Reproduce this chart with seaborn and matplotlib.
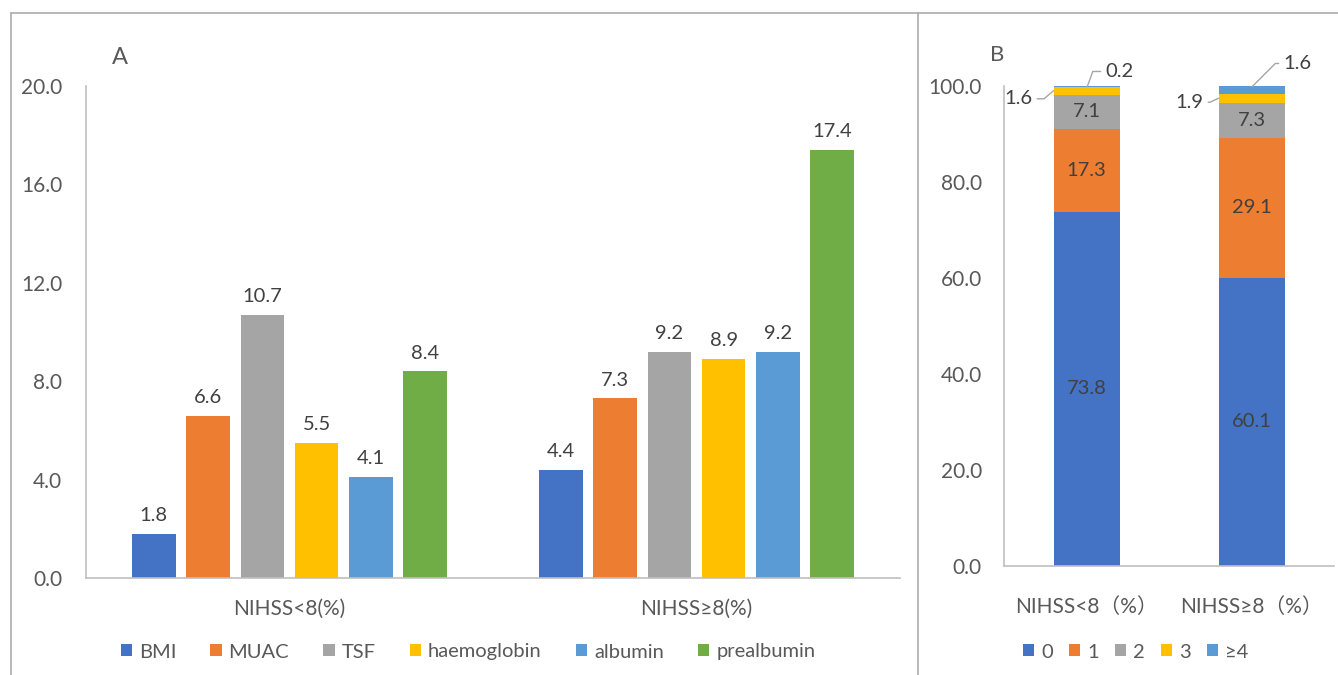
import numpy as np
import pandas as pd
import matplotlib
matplotlib.use("Agg")
import matplotlib.pyplot as plt
from matplotlib.lines import Line2D
import seaborn as sns

# Panel A: share of patients with low nutritional indicators, by stroke severity
groups_a = ["NIHSS<8(%)", "NIHSS≥8(%)"]
indicators = ["BMI", "MUAC", "TSF", "haemoglobin", "albumin", "prealbumin"]
mild_vals = [1.8, 6.6, 10.7, 5.5, 4.1, 8.4]
severe_vals = [4.4, 7.3, 9.2, 8.9, 9.2, 17.4]
colors_a = ["#4472C4", "#ED7D31", "#A5A5A5", "#FFC000", "#5B9BD5", "#70AD47"]

# Panel B: distribution of the number of abnormal indicators
groups_b = ["NIHSS<8（%）", "NIHSS≥8（%）"]
levels = ["0", "1", "2", "3", "≥4"]
mild_dist = [73.8, 17.3, 7.1, 1.6, 0.2]
severe_dist = [60.1, 29.1, 7.3, 1.9, 1.6]
colors_b = ["#4472C4", "#ED7D31", "#A5A5A5", "#FFC000", "#5B9BD5"]

TEXT = "#595959"
LABEL = "#404040"
LINE = "#BFBFBF"

sns.set_theme(style="white")
plt.rcParams["font.family"] = ["Lato", "Noto Sans CJK SC", "DejaVu Sans"]

W, H = 1338, 675
fig = plt.figure(figsize=(W / 100, H / 100), dpi=100)


def px_axes(x0, y0, x1, y1):
    return fig.add_axes([x0 / W, 1 - y1 / H, (x1 - x0) / W, (y1 - y0) / H])


def fig_line(x0, y0, x1, y1):
    fig.add_artist(Line2D([x0 / W, x1 / W], [1 - y0 / H, 1 - y1 / H],
                          transform=fig.transFigure, color="#ABABAB", lw=1.2))


def style_axes(ax, ypad, xpad):
    sns.despine(ax=ax)
    for side in ("left", "bottom"):
        ax.spines[side].set_color(LINE)
        ax.spines[side].set_linewidth(1.2)
    ax.tick_params(axis="both", length=0, labelsize=15, colors=TEXT)
    ax.tick_params(axis="y", pad=ypad)
    ax.tick_params(axis="x", pad=xpad)
    ax.set_xlabel("")
    ax.set_ylabel("")


# panel frames
fig_line(11, 13, W, 13)
fig_line(11, 13, 11, H)
fig_line(918, 13, 918, H)

# ---------------- Panel A ----------------
axA = px_axes(86, 86, 900, 578)
df_a = pd.DataFrame({
    "group": np.repeat(groups_a, len(indicators)),
    "indicator": indicators * len(groups_a),
    "value": mild_vals + severe_vals,
})
sns.barplot(data=df_a, x="group", y="value", hue="indicator", hue_order=indicators,
            order=groups_a, palette=colors_a, width=0.8, gap=0.2, saturation=1,
            errorbar=None, linewidth=0, ax=axA, legend=True)
for cont in axA.containers:
    axA.bar_label(cont, fmt="%.1f", padding=7, fontsize=14.5, color=LABEL)
axA.set_ylim(0, 20)
axA.set_yticks(np.arange(0, 20.1, 4))
axA.set_yticklabels([f"{v:.1f}" for v in np.arange(0, 20.1, 4)])
style_axes(axA, ypad=17, xpad=15)

handles, labels = axA.get_legend_handles_labels()
axA.legend(handles, labels, loc="center", bbox_to_anchor=(468 / W, 1 - 652 / H),
           bbox_transform=fig.transFigure, ncol=6, frameon=False, fontsize=14.5,
           labelcolor=TEXT, handlelength=0.55, handleheight=0.55, handletextpad=0.35,
           columnspacing=1.7, borderpad=0)

fig.text(120 / W, 1 - 57 / H, "A", ha="center", va="center", fontsize=17, color=TEXT)

# ---------------- Panel B ----------------
axB = px_axes(1004, 86, 1334, 566)
df_b = pd.DataFrame({
    "group": np.repeat(groups_b, len(levels)),
    "level": levels * len(groups_b),
    "value": mild_dist + severe_dist,
})
df_b["top"] = df_b.groupby("group", sort=False)["value"].cumsum()

# stacked bars: draw cumulative totals from the top layer down
for level, color in reversed(list(zip(levels, colors_b))):
    sub = df_b[df_b["level"] == level]
    sns.barplot(data=sub, x="group", y="top", order=groups_b, color=color,
                width=0.4, saturation=1, errorbar=None, linewidth=0,
                label=level, ax=axB)

# value labels: inside large segments, with leader lines for thin ones
leader = {
    (0, "3"): ((-0.2, -21, -8), "right", 40),
    (0, "≥4"): ((0.005, 18, 15), "left", 70),
    (1, "3"): ((-0.2, -15, -4), "right", 25),
    (1, "≥4"): ((0.005, 31, 23), "left", 45),
}
for gi, grp in enumerate(groups_b):
    rows = df_b[df_b["group"] == grp]
    for _, r in rows.iterrows():
        mid = r["top"] - r["value"] / 2
        txt = f"{r['value']:.1f}"
        if r["value"] >= 5:
            axB.text(gi, mid, txt, ha="center", va="center", fontsize=14.5, color=LABEL)
        else:
            (dx, ox, oy), ha, angle = leader[(gi, r["level"])]
            y = mid if r["level"] == "3" else r["top"] - 0.1
            axB.annotate(txt, xy=(gi + dx, y), xytext=(ox, oy), textcoords="offset pixels",
                         ha=ha, va="center", fontsize=14.5, color=LABEL,
                         arrowprops=dict(arrowstyle="-", color="#A6A6A6", lw=1,
                                         shrinkA=1, shrinkB=0,
                                         relpos=(1, 0.5) if ha == "right" else (0, 0.5),
                                         connectionstyle=f"angle,angleA=0,angleB={angle}"))

axB.set_ylim(0, 100)
axB.set_xlim(-0.5, 1.5)
axB.set_yticks(np.arange(0, 100.1, 20))
axB.set_yticklabels([f"{v:.1f}" for v in np.arange(0, 100.1, 20)])
style_axes(axB, ypad=16, xpad=22)

hb, lb = axB.get_legend_handles_labels()
order = [lb.index(l) for l in levels]
axB.legend([hb[i] for i in order], levels, loc="center",
           bbox_to_anchor=(1136 / W, 1 - 652 / H), bbox_transform=fig.transFigure,
           ncol=5, frameon=False, fontsize=14.5, labelcolor=TEXT, handlelength=0.55,
           handleheight=0.55, handletextpad=0.35, columnspacing=0.8, borderpad=0)

fig.text(997 / W, 1 - 55 / H, "B", ha="center", va="center", fontsize=16, color=TEXT)

fig.savefig("out.png", dpi=100, facecolor="white")
